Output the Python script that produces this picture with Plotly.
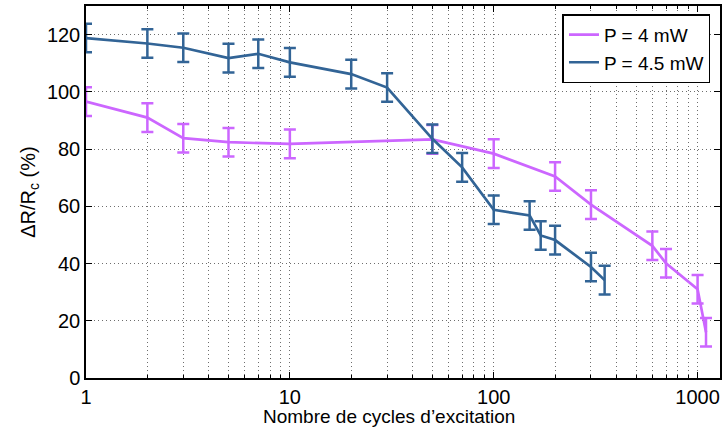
import plotly.graph_objects as go

# P = 4 mW
x_4 = [1, 2, 3, 5, 10, 50, 100, 200, 300, 600, 700, 1000, 1100]
y_4 = [96.6, 91, 83.8, 82.4, 81.8, 83.4, 78.4, 70.4, 60.6, 46.2, 40.1, 31, 16]
e_4 = [5, 5, 5, 5, 5, 5, 5, 5, 5, 5, 5, 5, 5]

# P = 4.5 mW
x_45 = [1, 2, 3, 5, 7, 10, 20, 30, 50, 70, 100, 150, 170, 200, 300, 350]
y_45 = [118.8, 116.9, 115.4, 111.8, 113.3, 110.3, 106.2, 101.5, 83.6, 73.6, 58.8, 56.8, 49.8, 48.2, 38.8, 34.2]
e_45 = [5, 5, 5, 5, 5, 5, 5, 5, 5, 5, 5, 5, 5, 5, 5, 5]

x_ticks = [1, 10, 100, 1000]
y_ticks = [0, 20, 40, 60, 80, 100, 120]

purple = "rgb(204,102,255)"
blue = "rgb(50,100,150)"

minor_x = [m * d for d in [1, 10, 100, 1000] for m in range(2, 10)]

fig = go.Figure()
fig.add_trace(go.Scatter(
    x=x_4, y=y_4, mode="lines", name="P = 4 mW",
    line=dict(color=purple, width=2.7),
    error_y=dict(type="data", array=e_4, color=purple, thickness=2.5, width=6),
))
fig.add_trace(go.Scatter(
    x=x_45, y=y_45, mode="lines", name="P = 4.5 mW",
    line=dict(color=blue, width=2.7),
    error_y=dict(type="data", array=e_45, color=blue, thickness=2.5, width=6),
))

fam = "Liberation Sans, Arial, sans-serif"
tick_font = dict(family=fam, size=20, color="black")
title_font = dict(family=fam, size=19, color="black")
ytitle_font = dict(family=fam, size=20, color="black")
grid_col = "rgb(110,110,110)"

fig.update_layout(
    width=724, height=428,
    margin=dict(l=86, r=2, t=6, b=50),
    paper_bgcolor="white", plot_bgcolor="white",
    font=tick_font,
    showlegend=True,
    legend=dict(
        x=0.985, y=0.978, xanchor="right", yanchor="top",
        bgcolor="white", bordercolor="black", borderwidth=1.5,
        font=dict(family=fam, size=19, color="black"),
        tracegroupgap=0, itemwidth=30, entrywidth=155, entrywidthmode="pixels",
    ),
    annotations=[dict(
        text="Nombre de cycles d’excitation", xref="paper", yref="paper",
        x=0.478, y=-0.071, xanchor="center", yanchor="top", showarrow=False,
        font=title_font,
    )],
)
fig.update_xaxes(
    type="log", range=[0, 3.11],
    tickvals=x_ticks, ticktext=[str(v) for v in x_ticks],
    ticks="inside", ticklen=6, tickcolor="black",
    showline=True, linecolor="black", linewidth=1.5, mirror="ticks",
    showgrid=True, gridcolor=grid_col, griddash="1px,3px", gridwidth=1,
    minor=dict(tickvals=minor_x, ticks="inside", ticklen=3, tickcolor="black",
               showgrid=True, gridcolor=grid_col, griddash="1px,3px", gridwidth=1),
    zeroline=False,
    tickfont=tick_font,
)
fig.update_yaxes(
    range=[0, 130], tickvals=y_ticks,
    ticks="inside", ticklen=6, tickcolor="black",
    showline=True, linecolor="black", linewidth=1.5, mirror="ticks",
    showgrid=True, gridcolor=grid_col, griddash="1px,3px", gridwidth=1,
    zeroline=False,
    title=dict(text="ΔR/R<sub>c</sub> (%)", standoff=6, font=ytitle_font),
    tickfont=tick_font,
)

fig.write_html("out.html", config={"displayModeBar": False},
               post_script="document.body.style.margin='0';")
